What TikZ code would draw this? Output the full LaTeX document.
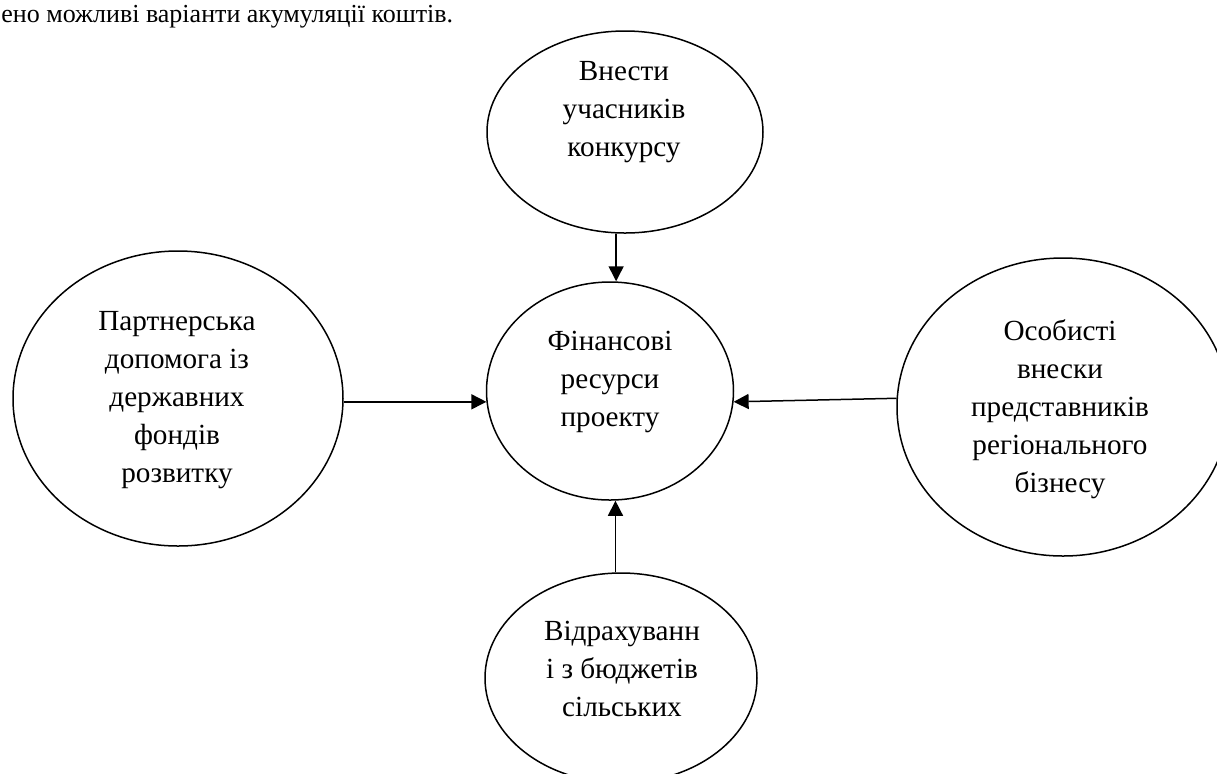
\documentclass[tikz,border=0pt]{standalone}
\usepackage{fontspec}
\setmainfont{Liberation Serif}
\usetikzlibrary{arrows.meta,shapes.geometric}
\tikzset{
  oval/.style={draw, ellipse, line width=0.75pt, inner sep=0pt},
  lbl/.style={anchor=base, inner sep=0pt, font=\fontsize{14.6}{19}\selectfont},
  arr/.style={line width=0.75pt, -{Triangle[length=7.5pt,width=7.5pt]}},
}
\begin{document}
\begin{tikzpicture}[x=0.5pt,y=-0.5pt]
\useasboundingbox (0,0) rectangle (1217,773);
\clip (0,0) rectangle (1217,773);
\node[anchor=base west, inner sep=0pt, font=\fontsize{13}{15}\selectfont] (cap) at (1,22) {ено можливі варіанти акумуляції коштів.};
\node[oval, minimum width=138pt, minimum height=101pt] (t) at (625,132) {};
\node[oval, minimum width=123.5pt, minimum height=109pt] (c) at (610,391) {};
\node[oval, minimum width=165pt, minimum height=147.5pt] (l) at (178,398.5) {};
\node[oval, minimum width=166pt, minimum height=149pt] (r) at (1063,407) {};
\node[oval, minimum width=136pt, minimum height=105pt] (b) at (621,678) {};
\node[lbl] (tt) at (624,80) {\begin{tabular}[t]{@{}c@{}}Внести\\учасників\\конкурсу\end{tabular}};
\node[lbl] (ct) at (610,350) {\begin{tabular}[t]{@{}c@{}}Фінансові\\ресурси\\проекту\end{tabular}};
\node[lbl] (lt) at (177,330) {\begin{tabular}[t]{@{}c@{}}Партнерська\\допомога із\\державних\\фондів\\розвитку\end{tabular}};
\node[lbl] (rt) at (1060,340) {\begin{tabular}[t]{@{}c@{}}Особисті\\внески\\представників\\регіонального\\бізнесу\end{tabular}};
\node[lbl] (bt) at (622,640) {\begin{tabular}[t]{@{}c@{}}Відрахуванн\\і з бюджетів\\сільських\end{tabular}};
\draw[arr] (t.265) -- (t.265 |- c.north);
\draw[arr] (b.93) -- (b.93 |- c.south);
\draw[arr] (c.185 -| l.east) -- (c.185);
\draw[arr] (r.177) -- (c.355);
\end{tikzpicture}
\end{document}
